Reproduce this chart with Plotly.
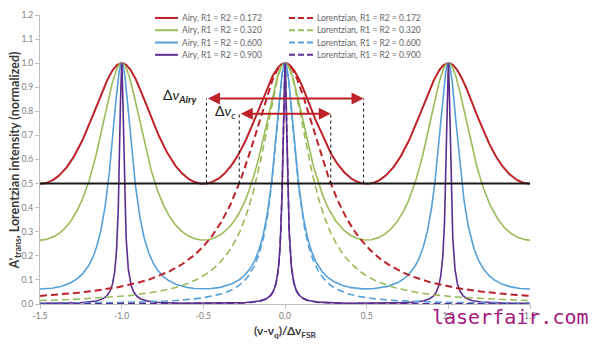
import numpy as np
import plotly.graph_objects as go

# Mirror reflectivities (R1 = R2) for the four resonator cases
reflectivities = [0.172, 0.320, 0.600, 0.900]
series_colors = ["#bd2229", "#9bbb59", "#55a0d8", "#5b2d8e"]
airy_widths = [2.0, 1.6, 1.6, 1.6]
lor_widths = [2.0, 1.6, 1.6, 1.6]

x_ticks = [-1.5, -1.0, -0.5, 0.0, 0.5, 1.0, 1.5]
y_ticks = [round(0.1 * i, 1) for i in range(13)]

# Frequency offset in units of the free spectral range
nu = np.linspace(-1.5, 1.5, 6001)


def airy(R, x):
    F = 4 * R / (1 - R) ** 2
    return 1.0 / (1.0 + F * np.sin(np.pi * x) ** 2)


def lorentz(R, x):
    dnu_c = -np.log(R * R) / (2 * np.pi)
    h = (dnu_c / 2) ** 2
    return h / (x ** 2 + h)


# Widths marked on the R = 0.172 case
R0 = reflectivities[0]
F0 = 4 * R0 / (1 - R0) ** 2
half_airy = np.arcsin(1 / np.sqrt(F0)) / np.pi
half_c = -np.log(R0 * R0) / (2 * np.pi) / 2
y_arrow_airy = 0.853
y_arrow_c = 0.79

fig = go.Figure()
for R, c, w in zip(reflectivities, series_colors, airy_widths):
    fig.add_trace(go.Scatter(x=nu, y=airy(R, nu), mode="lines",
                             line=dict(color=c, width=w), showlegend=False,
                             name=f"Airy, R1 = R2 = {R:.3f}"))
for R, c, w in zip(reflectivities, series_colors, lor_widths):
    fig.add_trace(go.Scatter(x=nu, y=lorentz(R, nu), mode="lines",
                             line=dict(color=c, width=w, dash="7px,4px"), showlegend=False,
                             name=f"Lorentzian, R1 = R2 = {R:.3f}"))

# Plot area in pixels: x 40..530, y 10..304
L, Rr, T, B = 40, 530, 10, 304


def px(xp):
    return (xp - L) / (Rr - L)


def py(yp):
    return (B - yp) / (B - T)


shapes = []
annotations = []

# Reference level at half maximum
shapes.append(dict(type="line", xref="x", yref="y", x0=-1.5, x1=1.5, y0=0.5, y1=0.5,
                   line=dict(color="#1a1a1a", width=2)))
# Dotted markers for the two widths
for xv, ytop in [(-half_airy, y_arrow_airy), (half_airy, y_arrow_airy),
                 (-half_c, y_arrow_c), (half_c, y_arrow_c)]:
    shapes.append(dict(type="line", xref="x", yref="y", x0=xv, x1=xv, y0=0.5, y1=ytop,
                       line=dict(color="#111111", width=1, dash="dot")))

# Double-headed arrows
for half, yv in [(half_airy, y_arrow_airy), (half_c, y_arrow_c)]:
    annotations.append(dict(x=half, y=yv, ax=-half, ay=yv, xref="x", yref="y",
                            axref="x", ayref="y", text="", showarrow=True,
                            arrowhead=2, startarrowhead=2, arrowside="end+start",
                            arrowsize=1.2, startarrowsize=1.2, arrowwidth=2,
                            arrowcolor="#bd2229", standoff=0, startstandoff=0))

annotations.append(dict(x=-half_airy - 0.045, y=0.865, xref="x", yref="y", xanchor="right",
                        yanchor="middle", showarrow=False,
                        text="Δ<i>ν</i><sub><b><i>Airy</i></b></sub>",
                        font=dict(family="Lato", size=14, color="#222222")))
annotations.append(dict(x=-half_c - 0.005, y=0.80, xref="x", yref="y", xanchor="right",
                        yanchor="middle", showarrow=False,
                        text="Δ<i>ν</i><sub><i>c</i></sub>",
                        font=dict(family="Lato", size=14, color="#222222")))

# Legend drawn as two columns
row_y = [13, 25.5, 38, 50.5]
for i, (R, c) in enumerate(zip(reflectivities, series_colors)):
    y = py(row_y[i])
    shapes.append(dict(type="line", xref="paper", yref="paper", x0=px(155), x1=px(178),
                       y0=y, y1=y, line=dict(color=c, width=2)))
    annotations.append(dict(x=px(180), y=y, xref="paper", yref="paper", xanchor="left",
                            yanchor="middle", showarrow=False,
                            text=f"Airy, R1 = R2 = {R:.3f}",
                            font=dict(family="Lato", size=8.5, color="#666666")))
    shapes.append(dict(type="line", xref="paper", yref="paper", x0=px(289), x1=px(313),
                       y0=y, y1=y, line=dict(color=c, width=2, dash="6px,3px")))
    annotations.append(dict(x=px(315), y=y, xref="paper", yref="paper", xanchor="left",
                            yanchor="middle", showarrow=False,
                            text=f"Lorentzian, R1 = R2 = {R:.3f}",
                            font=dict(family="Lato", size=8.5, color="#666666")))

# Axis titles
annotations.append(dict(x=px(15), y=py(158), xref="paper", yref="paper", textangle=-90,
                        showarrow=False, xanchor="center", yanchor="middle",
                        text="A'<sub>trans</sub>, Lorentzian intensity (normalized)",
                        font=dict(family="Lato", size=12.5, color="#3a3a3a", weight="bold")))
annotations.append(dict(x=px(285), y=py(332), xref="paper", yref="paper",
                        showarrow=False, xanchor="center", yanchor="middle",
                        text="(ν-ν<sub>q</sub>)/Δν<sub>FSR</sub>",
                        font=dict(family="Lato", size=12, color="#3a3a3a", weight="bold")))

# Site mark
annotations.append(dict(x=px(430), y=py(317), xref="paper", yref="paper",
                        showarrow=False, xanchor="left", yanchor="middle",
                        text="laserfair.com",
                        font=dict(family="DejaVu Sans Mono", size=20, color="#a3187f")))

fig.update_layout(
    width=595, height=347,
    margin=dict(l=L, r=595 - Rr, t=T, b=347 - B),
    paper_bgcolor="white", plot_bgcolor="white",
    showlegend=False,
    shapes=shapes, annotations=annotations,
    xaxis=dict(range=[-1.5, 1.5], tickvals=x_ticks,
               ticktext=[f"{v:.1f}" for v in x_ticks],
               showgrid=False, zeroline=False, showline=True, linecolor="#bfbfbf",
               linewidth=1, ticks="outside", ticklen=4, tickcolor="#bfbfbf",
               tickfont=dict(family="Lato", size=8.5, color="#808080")),
    yaxis=dict(range=[0, 1.2], tickvals=y_ticks,
               ticktext=[f"{v:.1f}" for v in y_ticks],
               showgrid=False, zeroline=False, showline=True, linecolor="#bfbfbf",
               linewidth=1, ticks="outside", ticklen=4, tickcolor="#bfbfbf",
               tickfont=dict(family="Lato", size=8.5, color="#808080")),
)

fig.write_html("out.html")
